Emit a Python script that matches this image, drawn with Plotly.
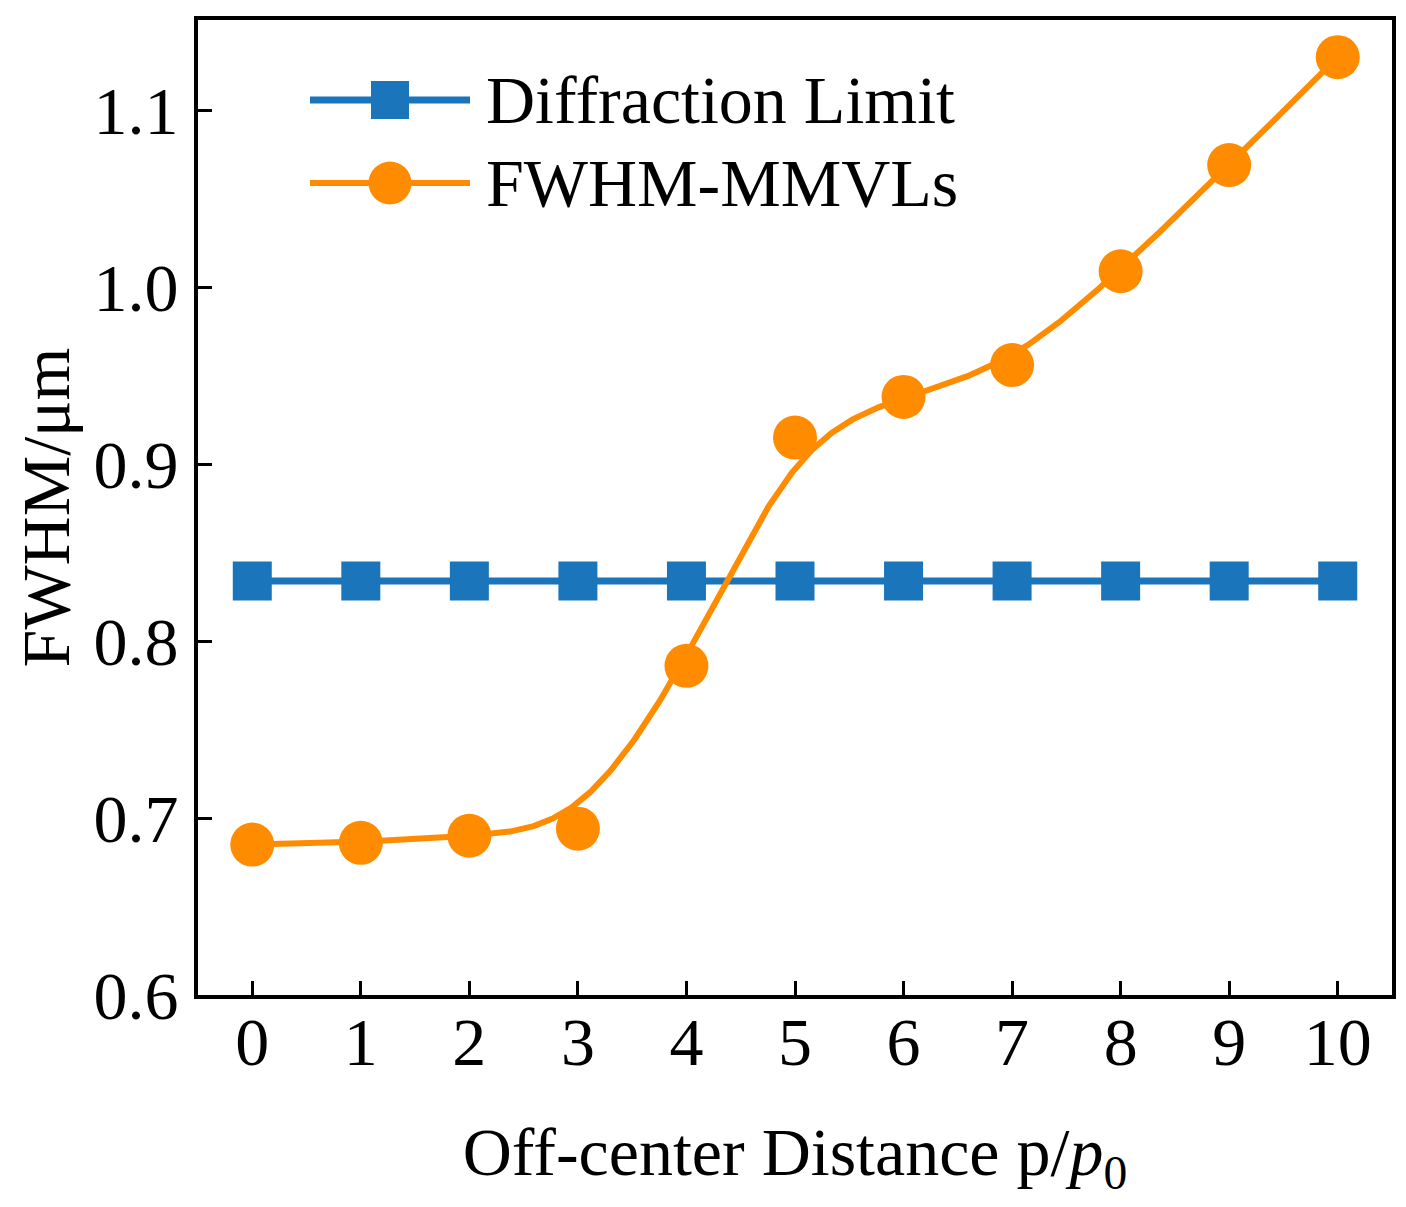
import numpy as np
import plotly.graph_objects as go

# ---- data ----
distance = [0, 1, 2, 3, 4, 5, 6, 7, 8, 9, 10]
diffraction_limit = [0.834] * 11
fwhm_mmvls = [0.685, 0.686, 0.690, 0.694, 0.786, 0.915, 0.938, 0.956, 1.009, 1.069, 1.130]
x_ticks = [0, 1, 2, 3, 4, 5, 6, 7, 8, 9, 10]
y_ticks = [0.6, 0.7, 0.8, 0.9, 1.0, 1.1]
y_tick_labels = ["0.6", "0.7", "0.8", "0.9", "1.0", "1.1"]
series_names = ["Diffraction Limit", "FWHM-MMVLs"]

BLUE = "#1B75BB"
ORANGE = "#FF8C00"
FONT = "Liberation Serif"
FS = 68

# page has an 8px body margin: size the figure so the plot box lands
# at page pixels x 198..1392, y 20..995
W, H = 1390, 1191
ML, MR, MT, MB = 190, 6, 12, 204
BOX_L, BOX_R, BOX_T, BOX_B = 198, 1392, 20, 995


def bspline(cx, cy, k=3, samples=600):
    """Clamped uniform B-spline using the data points as control points."""
    cx = np.asarray(cx, float)
    cy = np.asarray(cy, float)
    n = len(cx)
    knots = np.concatenate([np.zeros(k), np.arange(n - k + 1), np.full(k, n - k)]).astype(float)
    ts = np.linspace(0, n - k, samples)
    outx, outy = [], []
    for t in ts:
        s = np.searchsorted(knots, t, side="right") - 1
        s = min(s, n - 1)
        dx = [cx[j] for j in range(s - k, s + 1)]
        dy = [cy[j] for j in range(s - k, s + 1)]
        for r in range(1, k + 1):
            for j in range(k, r - 1, -1):
                i = j + s - k
                denom = knots[i + k - r + 1] - knots[i]
                a = 0.0 if denom == 0 else (t - knots[i]) / denom
                dx[j] = (1 - a) * dx[j - 1] + a * dx[j]
                dy[j] = (1 - a) * dy[j - 1] + a * dy[j]
        outx.append(dx[k])
        outy.append(dy[k])
    return outx, outy


sx, sy = bspline(distance, fwhm_mmvls)

fig = go.Figure()
fig.add_trace(go.Scatter(
    x=distance, y=diffraction_limit, mode="lines+markers", name=series_names[0],
    line=dict(color=BLUE, width=7),
    marker=dict(symbol="square", size=39, color=BLUE),
    showlegend=False,
))
fig.add_trace(go.Scatter(
    x=sx, y=sy, mode="lines", name=series_names[1],
    line=dict(color=ORANGE, width=6), showlegend=False, hoverinfo="skip",
))
fig.add_trace(go.Scatter(
    x=distance, y=fwhm_mmvls, mode="markers", name=series_names[1],
    marker=dict(symbol="circle", size=44, color=ORANGE),
    showlegend=False,
))

# ---- custom legend (page pixel layout -> paper coords) ----
PW, PH = BOX_R - BOX_L, BOX_B - BOX_T


def px(x):
    return (x - BOX_L) / PW


def py(y):
    return (BOX_B - y) / PH


shapes = []
annotations = []
rows = [(100, BLUE, "square", 38, 7), (183, ORANGE, "circle", 43, 6)]
for (yy, col, sym, sz, lw), name in zip(rows, series_names):
    shapes.append(dict(type="line", xref="paper", yref="paper",
                       x0=px(310), x1=px(470), y0=py(yy), y1=py(yy),
                       line=dict(color=col, width=lw)))
    shapes.append(dict(type="rect" if sym == "square" else "circle",
                       xref="paper", yref="paper",
                       x0=px(390 - sz / 2), x1=px(390 + sz / 2),
                       y0=py(yy + sz / 2), y1=py(yy - sz / 2),
                       fillcolor=col, line=dict(width=0)))
    annotations.append(dict(xref="paper", yref="paper", x=px(484), y=py(yy),
                            xanchor="left", yanchor="middle", showarrow=False,
                            text=name, font=dict(family=FONT, size=FS, color="black")))

fig.update_layout(
    width=W, height=H,
    margin=dict(l=ML, r=MR, t=MT, b=MB, autoexpand=False),
    paper_bgcolor="white", plot_bgcolor="white",
    font=dict(family=FONT, size=FS, color="black"),
    shapes=shapes, annotations=annotations,
    showlegend=False,
)
fig.update_xaxes(
    range=[-0.5, 10.5], tickvals=x_ticks, ticktext=[str(v) for v in x_ticks],
    showgrid=False, zeroline=False, automargin=False,
    showline=True, linecolor="black", linewidth=4, mirror=True,
    ticks="inside", ticklen=14, tickwidth=3, tickcolor="black",
    ticklabelstandoff=-16,
    tickfont=dict(family=FONT, size=FS, color="black"),
    title=dict(text="Off-center Distance p/<i>p</i><sub>0</sub>",
               font=dict(family=FONT, size=FS, color="black"), standoff=50),
)
fig.update_yaxes(
    range=[0.6, 1.151], tickvals=y_ticks, ticktext=y_tick_labels,
    showgrid=False, zeroline=False, automargin=False,
    showline=True, linecolor="black", linewidth=4, mirror=True,
    ticks="inside", ticklen=14, tickwidth=3, tickcolor="black",
    ticklabelstandoff=2,
    tickfont=dict(family=FONT, size=FS, color="black"),
    title=dict(text="FWHM/μm", font=dict(family=FONT, size=FS, color="black"), standoff=20),
)

fig.write_html("out.html")
